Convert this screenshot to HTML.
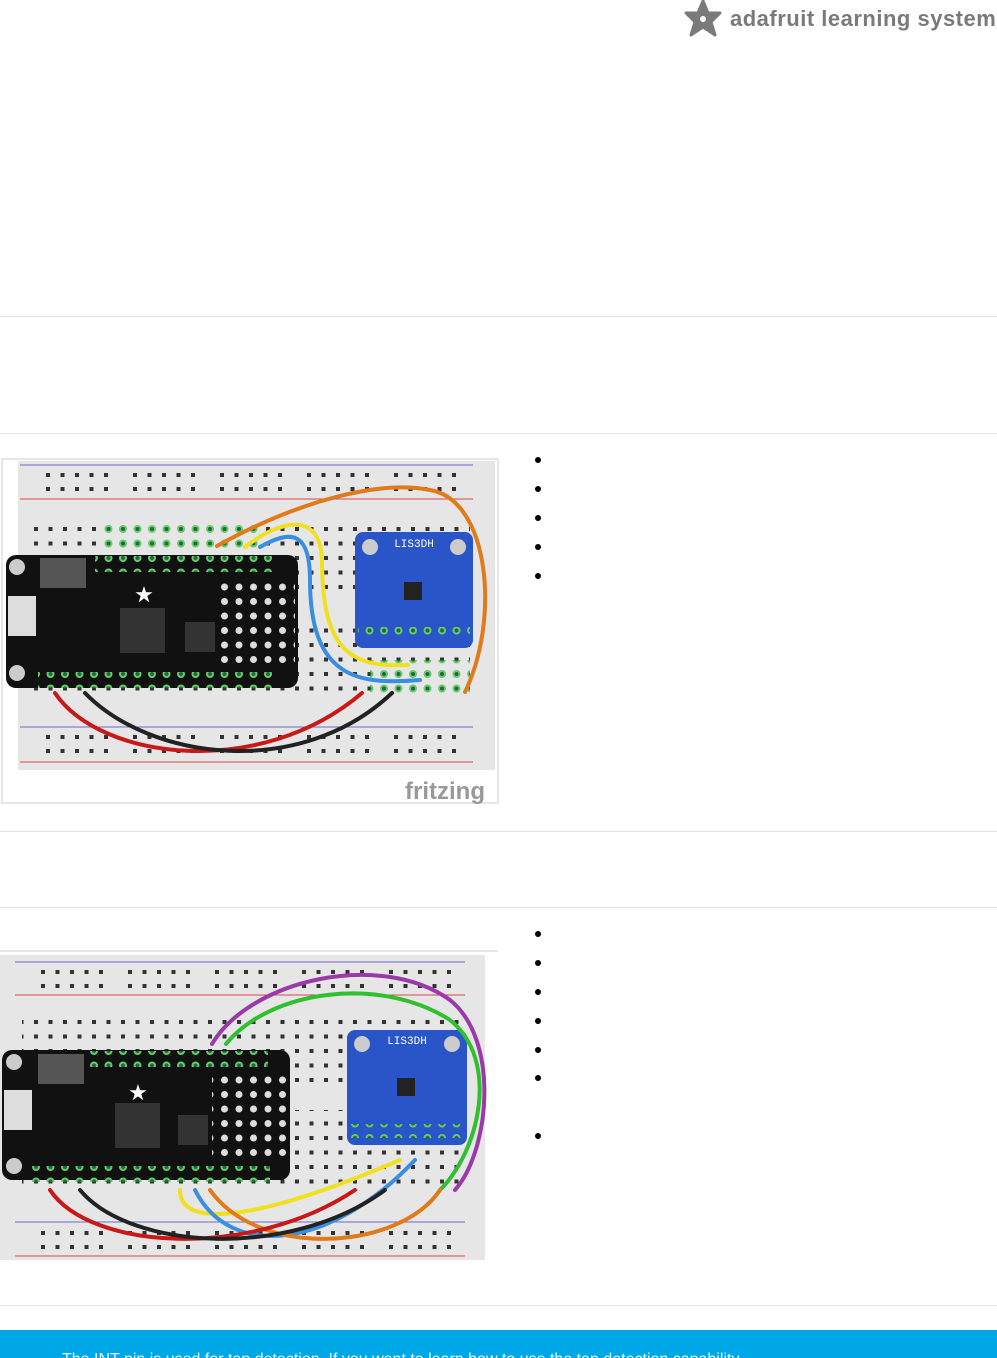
<!DOCTYPE html>
<html><head><meta charset="utf-8"><style>
body{margin:0;width:997px;height:1358px;background:#fff;position:relative;overflow:hidden;font-family:"Liberation Sans",sans-serif}
.hr{position:absolute;left:0;width:997px;height:1px;background:#e2e2e2}
.b{position:absolute;left:535px;width:6px;height:6px;border-radius:50%;background:#000}
</style></head><body>
<div style="position:absolute;left:684px;top:0;height:38px;display:flex;align-items:center">
<svg width="38" height="38" viewBox="-19 -19 38 38"><path d="M0,-18 L5,-6 L17,-6 L8,3 L12,16 L0,8 L-12,16 L-8,3 L-17,-6 L-5,-6Z" fill="#7a7a7a" stroke="#7a7a7a" stroke-width="3" stroke-linejoin="round"/><circle r="3" fill="#fff"/></svg>
<span style="font-weight:bold;font-size:22px;color:#7a7a7a;margin-left:8px;letter-spacing:0.5px">adafruit learning system</span></div>
<div class="hr" style="top:316px"></div>
<div class="hr" style="top:433px"></div>
<div class="hr" style="top:831px"></div>
<div class="hr" style="top:907px"></div>
<div class="hr" style="top:1305px"></div>

<svg style="position:absolute;left:0;top:0" width="997" height="1330">
<defs>
<pattern id="h" width="14.5" height="14.5" patternUnits="userSpaceOnUse"><rect x="5" y="5" width="4" height="4" fill="#333"/></pattern>
<g id="five" fill="#333"><rect x="3" y="3" width="4" height="4"/><rect x="17.5" y="3" width="4" height="4"/><rect x="32" y="3" width="4" height="4"/><rect x="46.5" y="3" width="4" height="4"/><rect x="61" y="3" width="4" height="4"/></g>
<pattern id="r1" x="43" y="470" width="87" height="14" patternUnits="userSpaceOnUse"><use href="#five"/></pattern>
<pattern id="r2" x="43" y="732" width="87" height="14" patternUnits="userSpaceOnUse"><use href="#five"/></pattern>
<pattern id="r3" x="38" y="967" width="87" height="14" patternUnits="userSpaceOnUse"><use href="#five"/></pattern>
<pattern id="r4" x="38" y="1228" width="87" height="14" patternUnits="userSpaceOnUse"><use href="#five"/></pattern>
<pattern id="g" width="14.5" height="14.5" patternUnits="userSpaceOnUse"><circle cx="7" cy="7" r="4" fill="#6c6"/><circle cx="7" cy="7" r="2" fill="#264"/></pattern>
<pattern id="bp" width="14.5" height="14.5" patternUnits="userSpaceOnUse"><circle cx="7" cy="7" r="3.5" fill="#ddd"/></pattern>
</defs>
<!-- image 1 -->
<rect x="2" y="459" width="496" height="344" fill="#fff" stroke="#ccc"/>
<rect x="18" y="461" width="477" height="309" fill="#e6e6e6"/>
<line x1="20" y1="465" x2="473" y2="465" stroke="#6c6ccc"/>
<line x1="20" y1="499" x2="473" y2="499" stroke="#d44"/>
<rect x="43" y="470" width="430" height="28" fill="url(#r1)"/>
<rect x="30" y="524" width="440" height="72" fill="url(#h)"/>
<rect x="30" y="620" width="440" height="80" fill="url(#h)"/>
<rect x="98" y="524" width="160" height="28" fill="url(#g)"/>
<line x1="20" y1="727" x2="473" y2="727" stroke="#6c6ccc"/>
<line x1="20" y1="762" x2="473" y2="762" stroke="#d44"/>
<rect x="43" y="732" width="430" height="28" fill="url(#r2)"/>
<rect x="6" y="555" width="292" height="133" rx="10" fill="#111"/>
<rect x="38" y="672" width="240" height="16" fill="url(#g)"/>
<rect x="95" y="556" width="180" height="16" fill="url(#g)"/>
<rect x="220" y="576" width="75" height="90" fill="url(#bp)"/>
<rect x="120" y="608" width="45" height="45" fill="#333"/>
<rect x="185" y="622" width="30" height="30" fill="#333"/>
<rect x="40" y="558" width="46" height="30" fill="#555"/>
<rect x="8" y="596" width="28" height="40" fill="#ddd"/>
<circle cx="17" cy="567" r="8" fill="#ccc"/><circle cx="17" cy="673" r="8" fill="#ccc"/>
<text x="144" y="602" font-size="22" fill="#fff" text-anchor="middle">★</text>
<rect x="355" y="532" width="118" height="116" rx="8" fill="#2a55c8"/>
<rect x="358" y="627" width="112" height="14" fill="url(#g)"/>
<rect x="404" y="582" width="18" height="18" fill="#222"/>
<text x="414" y="547" font-size="11" fill="#fff" text-anchor="middle" font-family="Liberation Mono">LIS3DH</text>
<circle cx="370" cy="547" r="8" fill="#ccc"/><circle cx="458" cy="547" r="8" fill="#ccc"/>
<rect x="370" y="660" width="100" height="38" fill="url(#g)"/>
<g fill="none" stroke-width="4" stroke-linecap="round">
<path d="M217,546 C300,500 380,480 430,490 C490,500 500,620 465,692" stroke="#e07a1a"/>
<path d="M245,547 C280,520 320,510 322,560 C322,650 350,668 408,665" stroke="#f0e020"/>
<path d="M260,547 C290,530 310,530 310,580 C310,680 360,685 420,680" stroke="#3a8ee0"/>
<path d="M55,693 C100,760 260,780 362,693" stroke="#c81818"/>
<path d="M85,693 C150,760 300,780 392,693" stroke="#222"/>
</g>
<text x="405" y="799" font-size="24" fill="#999" font-weight="bold">fritzing</text>

<!-- image 2 -->
<line x1="0" y1="951" x2="498" y2="951" stroke="#ccc"/>
<rect x="0" y="955" width="485" height="305" fill="#e6e6e6"/>
<line x1="15" y1="962" x2="465" y2="962" stroke="#6c6ccc"/>
<line x1="15" y1="995" x2="465" y2="995" stroke="#d44"/>
<rect x="38" y="967" width="420" height="28" fill="url(#r3)"/>
<rect x="22" y="1015" width="440" height="72" fill="url(#h)"/>
<rect x="22" y="1110" width="440" height="80" fill="url(#h)"/>
<line x1="15" y1="1222" x2="465" y2="1222" stroke="#6c6ccc"/>
<line x1="15" y1="1256" x2="465" y2="1256" stroke="#d44"/>
<rect x="38" y="1228" width="420" height="28" fill="url(#r4)"/>
<rect x="2" y="1050" width="288" height="130" rx="10" fill="#111"/>
<rect x="30" y="1166" width="240" height="16" fill="url(#g)"/>
<rect x="88" y="1051" width="180" height="16" fill="url(#g)"/>
<rect x="212" y="1070" width="75" height="90" fill="url(#bp)"/>
<rect x="115" y="1103" width="45" height="45" fill="#333"/>
<rect x="178" y="1115" width="30" height="30" fill="#333"/>
<rect x="38" y="1054" width="46" height="30" fill="#555"/>
<rect x="4" y="1090" width="28" height="40" fill="#ddd"/>
<circle cx="14" cy="1062" r="8" fill="#ccc"/><circle cx="14" cy="1166" r="8" fill="#ccc"/>
<text x="138" y="1100" font-size="22" fill="#fff" text-anchor="middle">★</text>
<rect x="347" y="1030" width="120" height="115" rx="8" fill="#2a55c8"/>
<rect x="350" y="1124" width="114" height="14" fill="url(#g)"/>
<rect x="397" y="1078" width="18" height="18" fill="#222"/>
<text x="407" y="1044" font-size="11" fill="#fff" text-anchor="middle" font-family="Liberation Mono">LIS3DH</text>
<circle cx="362" cy="1044" r="8" fill="#ccc"/><circle cx="452" cy="1044" r="8" fill="#ccc"/>
<g fill="none" stroke-width="4" stroke-linecap="round">
<path d="M212,1044 C250,980 380,950 450,1000 C500,1040 490,1150 455,1190" stroke="#9a3aa8"/>
<path d="M226,1044 C270,990 380,975 450,1020 C500,1060 480,1150 440,1190" stroke="#2fc02f"/>
<path d="M180,1190 C180,1230 260,1220 400,1160" stroke="#f0e020"/>
<path d="M195,1190 C230,1260 330,1250 415,1160" stroke="#3a8ee0"/>
<path d="M210,1190 C260,1260 400,1250 440,1190" stroke="#e07a1a"/>
<path d="M50,1190 C90,1250 250,1260 355,1190" stroke="#c81818"/>
<path d="M80,1190 C130,1250 290,1260 385,1190" stroke="#222"/>
</g>
</svg>

<div class="b" style="top:457px"></div><div class="b" style="top:486px"></div><div class="b" style="top:515px"></div><div class="b" style="top:544px"></div><div class="b" style="top:573px"></div>
<div class="b" style="top:931px"></div><div class="b" style="top:960px"></div><div class="b" style="top:989px"></div><div class="b" style="top:1018px"></div><div class="b" style="top:1047px"></div><div class="b" style="top:1075px"></div><div class="b" style="top:1133px"></div>

<div style="position:absolute;left:0;top:1330px;width:997px;height:28px;background:#00a7e6;overflow:hidden">
<div style="position:absolute;left:62px;top:21px;color:#e6f6fc;font-size:16px;white-space:nowrap">The INT pin is used for tap detection. If you want to learn how to use the tap detection capability</div></div>
</body></html>
